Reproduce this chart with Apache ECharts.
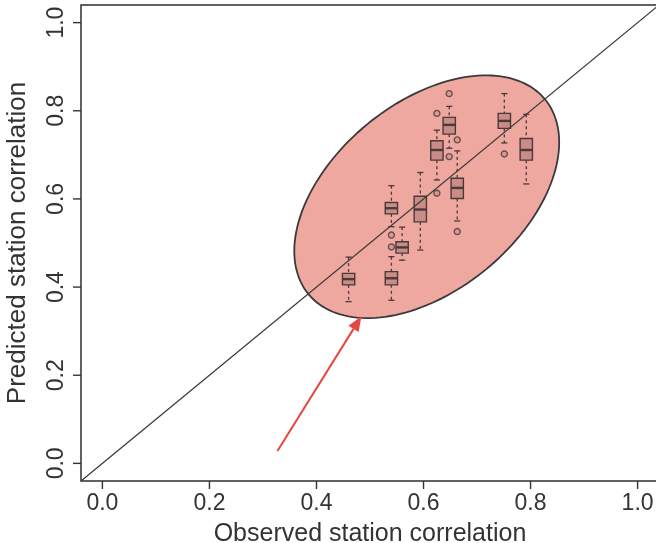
<!DOCTYPE html>
<html><head><meta charset="utf-8">
<style>html,body{margin:0;padding:0;background:#fff}#c{width:656px;height:543px}</style>
<script src="https://cdn.jsdelivr.net/npm/echarts@6/dist/echarts.min.js"></script>
</head><body><div id="c"></div>
<script>
// ---- data ----
const tickValues = [0.0, 0.2, 0.4, 0.6, 0.8, 1.0];
const xTitle = 'Observed station correlation';
const yTitle = 'Predicted station correlation';
const axisRange = [-0.04, 1.04];

const observed    = [0.460, 0.540, 0.540, 0.560, 0.594, 0.625, 0.648, 0.663, 0.751, 0.792];
const whiskerLow  = [0.367, 0.370, 0.537, 0.461, 0.484, 0.643, 0.715, 0.550, 0.727, 0.634];
const quart1      = [0.405, 0.405, 0.566, 0.477, 0.548, 0.688, 0.747, 0.601, 0.760, 0.688];
const medians     = [0.418, 0.420, 0.579, 0.490, 0.576, 0.711, 0.768, 0.625, 0.777, 0.711];
const quart3      = [0.431, 0.435, 0.592, 0.503, 0.606, 0.732, 0.785, 0.647, 0.794, 0.737];
const whiskerHigh = [0.468, 0.469, 0.630, 0.536, 0.660, 0.756, 0.810, 0.709, 0.839, 0.792];

const outlierX = [0.540, 0.540, 0.625, 0.625, 0.648, 0.648, 0.663, 0.663, 0.751];
const outlierY = [0.518, 0.491, 0.794, 0.613, 0.839, 0.696, 0.734, 0.526, 0.702];

const ellipseCenter = [0.606, 0.605];
const ellipseMajorEnd = [0.827, 0.826];
const ellipseAxisRatio = 0.612;

const arrowFrom = [0.327, 0.028];
const arrowTo = [0.484, 0.334];

// ---- build chart ----
const FONT = '"Liberation Sans", Arial, Helvetica, sans-serif';
const INK = '#333333';
const BOXINK = '#4a3a3a';
const TICK_LEN = 8;

const boxData = observed.map((x, i) => [x, whiskerLow[i], quart1[i], medians[i], quart3[i], whiskerHigh[i]]);
const outlierData = outlierX.map((x, i) => [x, outlierY[i]]);
const diagData = [[axisRange[0], axisRange[0]], [axisRange[1], axisRange[1]]];
const xTickData = tickValues.map(v => [v, axisRange[0]]);
const yTickData = tickValues.map(v => [axisRange[0], v]);

const chart = echarts.init(document.getElementById('c'), null, {renderer: 'canvas'});
chart.setOption({
  animation: false,
  backgroundColor: '#ffffff',
  grid: {left: 81, top: 5, width: 578, height: 476, show: true, borderColor: '#2e2e2e', borderWidth: 1.5,
    backgroundColor: 'transparent', outerBoundsMode: 'none', containLabel: false},
  xAxis: {
    type: 'value', min: axisRange[0], max: axisRange[1],
    splitLine: {show: false},
    axisLine: {show: false, onZero: false},
    axisTick: {show: false},
    axisLabel: {customValues: tickValues, formatter: v => v.toFixed(1), fontSize: 23, color: INK, margin: 11, fontFamily: FONT},
    name: xTitle, nameLocation: 'middle', nameGap: 41,
    nameTextStyle: {fontSize: 25, color: INK, fontFamily: FONT}
  },
  yAxis: {
    type: 'value', min: axisRange[0], max: axisRange[1],
    splitLine: {show: false},
    axisLine: {show: false, onZero: false},
    axisTick: {show: false},
    axisLabel: {customValues: tickValues, formatter: v => v.toFixed(1), fontSize: 23, color: INK, margin: 13, rotate: 90, fontFamily: FONT},
    name: yTitle, nameLocation: 'middle', nameGap: 50,
    nameTextStyle: {fontSize: 26, color: INK, fontFamily: FONT}
  },
  series: [
    {
      type: 'custom', z: 1, silent: true,
      data: [[ellipseCenter[0], ellipseCenter[1], ellipseMajorEnd[0], ellipseMajorEnd[1]]],
      encode: {x: [0, 2], y: [1, 3]},
      renderItem: function (params, api) {
        const c = api.coord([api.value(0), api.value(1)]);
        const e = api.coord([api.value(2), api.value(3)]);
        const dx = e[0] - c[0], dy = e[1] - c[1];
        const a = Math.hypot(dx, dy), b = a * ellipseAxisRatio, ang = Math.atan2(dy, dx);
        const pts = [];
        for (let i = 0; i < 160; i++) {
          const t = i / 160 * 2 * Math.PI;
          const x = a * Math.cos(t), y = b * Math.sin(t);
          pts.push([c[0] + x * Math.cos(ang) - y * Math.sin(ang), c[1] + x * Math.sin(ang) + y * Math.cos(ang)]);
        }
        return {type: 'polygon', shape: {points: pts}, style: {fill: '#efa8a0', stroke: '#3a3a3a', lineWidth: 1.8}};
      }
    },
    {
      type: 'custom', z: 3, silent: true,
      data: boxData,
      encode: {x: 0, y: [1, 2, 3, 4, 5]},
      renderItem: function (params, api) {
        const x = api.value(0);
        const pLo = api.coord([x, api.value(1)]);
        const pQ1 = api.coord([x, api.value(2)]);
        const pMd = api.coord([x, api.value(3)]);
        const pQ3 = api.coord([x, api.value(4)]);
        const pHi = api.coord([x, api.value(5)]);
        const w = api.size([0.023, 0])[0];
        const px = pMd[0], half = w / 2, cap = w / 4;
        const dashed = {stroke: BOXINK, lineWidth: 1.3, lineDash: [3, 3]};
        const solid = {stroke: BOXINK, lineWidth: 1.3};
        return {type: 'group', children: [
          {type: 'line', shape: {x1: px, y1: pHi[1], x2: px, y2: pQ3[1]}, style: dashed},
          {type: 'line', shape: {x1: px, y1: pQ1[1], x2: px, y2: pLo[1]}, style: dashed},
          {type: 'line', shape: {x1: px - cap, y1: pHi[1], x2: px + cap, y2: pHi[1]}, style: solid},
          {type: 'line', shape: {x1: px - cap, y1: pLo[1], x2: px + cap, y2: pLo[1]}, style: solid},
          {type: 'rect', shape: {x: px - half, y: pQ3[1], width: w, height: pQ1[1] - pQ3[1]},
            style: {fill: 'rgba(70,40,40,0.22)', stroke: BOXINK, lineWidth: 1.4}},
          {type: 'line', shape: {x1: px - half, y1: pMd[1], x2: px + half, y2: pMd[1]}, style: {stroke: BOXINK, lineWidth: 2.4}}
        ]};
      }
    },
    {
      type: 'scatter', z: 3, silent: true,
      data: outlierData,
      symbol: 'circle', symbolSize: 6,
      itemStyle: {color: 'rgba(70,40,40,0.15)', borderColor: BOXINK, borderWidth: 1.4}
    },
    {
      type: 'line', z: 4, silent: true,
      data: diagData, showSymbol: false, symbol: 'none',
      lineStyle: {color: '#3a3a3a', width: 1.3}
    },
    {
      // x-axis tick marks (R style, outward)
      type: 'custom', z: 6, silent: true, clip: false,
      data: xTickData, encode: {x: 0, y: 1},
      renderItem: function (params, api) {
        const p = api.coord([api.value(0), api.value(1)]);
        return {type: 'line', shape: {x1: p[0], y1: p[1], x2: p[0], y2: p[1] + TICK_LEN},
          style: {stroke: INK, lineWidth: 1.4}};
      }
    },
    {
      // y-axis tick marks (R style, outward)
      type: 'custom', z: 6, silent: true, clip: false,
      data: yTickData, encode: {x: 0, y: 1},
      renderItem: function (params, api) {
        const p = api.coord([api.value(0), api.value(1)]);
        return {type: 'line', shape: {x1: p[0], y1: p[1], x2: p[0] - TICK_LEN, y2: p[1]},
          style: {stroke: INK, lineWidth: 1.4}};
      }
    },
    {
      type: 'custom', z: 5, silent: true,
      data: [[arrowFrom[0], arrowFrom[1], arrowTo[0], arrowTo[1]]],
      encode: {x: [0, 2], y: [1, 3]},
      renderItem: function (params, api) {
        const p0 = api.coord([api.value(0), api.value(1)]);
        const p1 = api.coord([api.value(2), api.value(3)]);
        const ang = Math.atan2(p1[1] - p0[1], p1[0] - p0[0]);
        const L = 15, W = 6;
        const bx = p1[0] - L * Math.cos(ang), by = p1[1] - L * Math.sin(ang);
        const nx = -Math.sin(ang), ny = Math.cos(ang);
        return {type: 'group', children: [
          {type: 'line', shape: {x1: p0[0], y1: p0[1], x2: bx, y2: by}, style: {stroke: '#e5463e', lineWidth: 2}},
          {type: 'polygon', shape: {points: [[p1[0], p1[1]], [bx + nx * W, by + ny * W], [bx - nx * W, by - ny * W]]},
            style: {fill: '#e5463e'}}
        ]};
      }
    }
  ]
});
</script>
</body></html>
